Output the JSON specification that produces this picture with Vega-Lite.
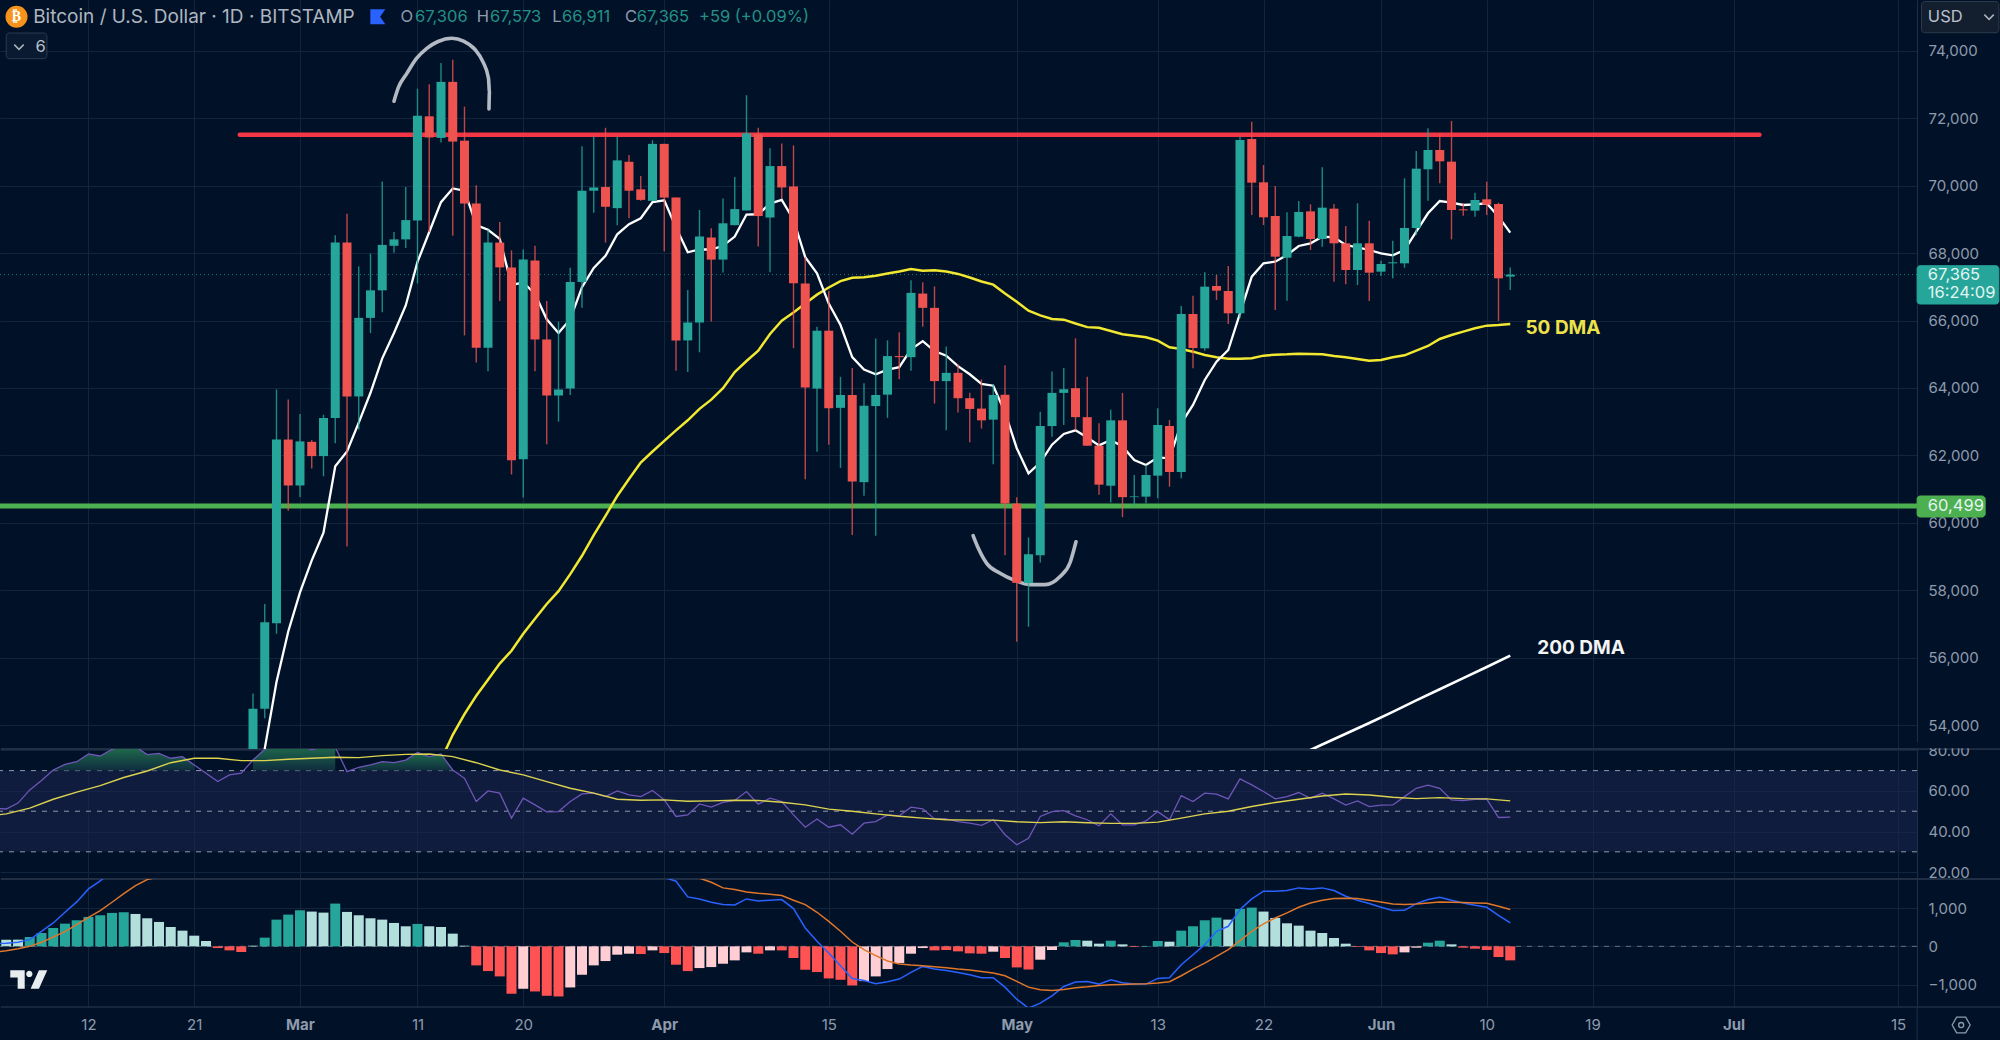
{"$schema":"https://vega.github.io/schema/vega-lite/v6.json","padding":0,"background":"#011228","bounds":"flush","spacing":0,
"resolve":{"scale":{"color":"independent","fill":"independent","stroke":"independent"}},
"config":{"view":{"stroke":null},"scale":{"continuousPadding":0},"axis":{"grid":true,"gridColor":"#12253d","gridWidth":1,"domainColor":"#1d2e46","domainWidth":1,"ticks":false,"labelColor":"#8e9bad","labelFont":"Inter","labelFontSize":15,"labelOverlap":false,"labelFlush":false}},
"datasets":{
"candles":[
{"d":"2024-02-26","o":51700,"h":54935,"l":50900,"c":54485,"k":"up"},{"d":"2024-02-27","o":54485,"h":57592,"l":54200,"c":57047,"k":"up"},{"d":"2024-02-28","o":57020,"h":63955,"l":56706,"c":62470,"k":"up"},{"d":"2024-02-29","o":62470,"h":63655,"l":60358,"c":61107,"k":"down"},
{"d":"2024-03-01","o":61107,"h":63232,"l":60766,"c":62415,"k":"up"},{"d":"2024-03-02","o":62402,"h":62456,"l":61611,"c":61979,"k":"down"},{"d":"2024-03-03","o":61979,"h":63205,"l":61380,"c":63110,"k":"up"},{"d":"2024-03-04","o":63110,"h":68533,"l":62360,"c":68315,"k":"up"},{"d":"2024-03-05","o":68315,"h":69173,"l":59295,"c":63750,"k":"down"},{"d":"2024-03-06","o":63750,"h":67606,"l":62770,"c":66080,"k":"up"},{"d":"2024-03-07","o":66080,"h":67988,"l":65630,"c":66898,"k":"up"},{"d":"2024-03-08","o":66898,"h":70127,"l":66244,"c":68246,"k":"up"},{"d":"2024-03-09","o":68220,"h":68628,"l":68015,"c":68410,"k":"up"},{"d":"2024-03-10","o":68410,"h":69963,"l":68151,"c":68982,"k":"up"},{"d":"2024-03-11","o":68969,"h":72879,"l":67102,"c":72075,"k":"up"},{"d":"2024-03-12","o":72061,"h":73015,"l":68628,"c":71435,"k":"down"},{"d":"2024-03-13","o":71421,"h":73642,"l":71285,"c":73083,"k":"up"},{"d":"2024-03-14","o":73083,"h":73737,"l":68519,"c":71312,"k":"down"},{"d":"2024-03-15","o":71339,"h":72348,"l":65562,"c":69473,"k":"down"},{"d":"2024-03-16","o":69473,"h":70018,"l":64758,"c":65194,"k":"down"},{"d":"2024-03-17","o":65194,"h":68696,"l":64500,"c":68315,"k":"up"},{"d":"2024-03-18","o":68315,"h":68928,"l":66584,"c":67579,"k":"down"},{"d":"2024-03-19","o":67579,"h":68083,"l":61434,"c":61856,"k":"down"},{"d":"2024-03-20","o":61884,"h":68110,"l":60753,"c":67810,"k":"up"},{"d":"2024-03-21","o":67783,"h":68219,"l":64500,"c":65440,"k":"down"},{"d":"2024-03-22","o":65440,"h":66584,"l":62333,"c":63777,"k":"down"},{"d":"2024-03-23","o":63777,"h":65971,"l":63001,"c":63955,"k":"up"},{"d":"2024-03-24","o":63982,"h":67565,"l":63791,"c":67143,"k":"up"},{"d":"2024-03-25","o":67143,"h":71176,"l":66380,"c":69854,"k":"up"},{"d":"2024-03-26","o":69854,"h":71462,"l":69200,"c":69950,"k":"up"},{"d":"2024-03-27","o":69963,"h":71721,"l":68315,"c":69377,"k":"down"},{"d":"2024-03-28","o":69336,"h":71462,"l":68832,"c":70754,"k":"up"},{"d":"2024-03-29","o":70713,"h":70917,"l":69037,"c":69854,"k":"down"},{"d":"2024-03-30","o":69895,"h":70290,"l":69554,"c":69582,"k":"down"},{"d":"2024-03-31","o":69554,"h":71353,"l":69554,"c":71244,"k":"up"},
{"d":"2024-04-01","o":71244,"h":71244,"l":68056,"c":69650,"k":"down"},{"d":"2024-04-02","o":69650,"h":69650,"l":64513,"c":65412,"k":"down"},{"d":"2024-04-03","o":65412,"h":66911,"l":64472,"c":65944,"k":"up"},{"d":"2024-04-04","o":65944,"h":69282,"l":65058,"c":68492,"k":"up"},{"d":"2024-04-05","o":68465,"h":68737,"l":65971,"c":67810,"k":"down"},{"d":"2024-04-06","o":67810,"h":69623,"l":67429,"c":68887,"k":"up"},{"d":"2024-04-07","o":68832,"h":70263,"l":68832,"c":69309,"k":"up"},{"d":"2024-04-08","o":69268,"h":72688,"l":69268,"c":71557,"k":"up"},{"d":"2024-04-09","o":71539,"h":71719,"l":68201,"c":69102,"k":"down"},{"d":"2024-04-10","o":69059,"h":71115,"l":67438,"c":70585,"k":"up"},{"d":"2024-04-11","o":70585,"h":71253,"l":69610,"c":69950,"k":"down"},{"d":"2024-04-12","o":69981,"h":71200,"l":65181,"c":67109,"k":"down"},{"d":"2024-04-13","o":67099,"h":67883,"l":61291,"c":64015,"k":"down"},{"d":"2024-04-14","o":63983,"h":65816,"l":62107,"c":65700,"k":"up"},{"d":"2024-04-15","o":65700,"h":66876,"l":62319,"c":63400,"k":"down"},{"d":"2024-04-16","o":63411,"h":64333,"l":61630,"c":63792,"k":"up"},{"d":"2024-04-17","o":63792,"h":64597,"l":59638,"c":61227,"k":"down"},{"d":"2024-04-18","o":61206,"h":64142,"l":60803,"c":63474,"k":"up"},{"d":"2024-04-19","o":63464,"h":65467,"l":59617,"c":63792,"k":"up"},{"d":"2024-04-20","o":63803,"h":65413,"l":63114,"c":64947,"k":"up"},{"d":"2024-04-21","o":64947,"h":65657,"l":64258,"c":64915,"k":"down"},{"d":"2024-04-22","o":64915,"h":67194,"l":64513,"c":66823,"k":"up"},{"d":"2024-04-23","o":66802,"h":67141,"l":65816,"c":66378,"k":"down"},{"d":"2024-04-24","o":66378,"h":67014,"l":63538,"c":64205,"k":"down"},{"d":"2024-04-25","o":64205,"h":65233,"l":62743,"c":64449,"k":"up"},{"d":"2024-04-26","o":64449,"h":64703,"l":63273,"c":63697,"k":"down"},{"d":"2024-04-27","o":63697,"h":63856,"l":62393,"c":63379,"k":"down"},{"d":"2024-04-28","o":63389,"h":64258,"l":62796,"c":63040,"k":"down"},{"d":"2024-04-29","o":63061,"h":64121,"l":61736,"c":63792,"k":"up"},{"d":"2024-04-30","o":63803,"h":64672,"l":59034,"c":60570,"k":"down"},
{"d":"2024-05-01","o":60570,"h":60761,"l":56469,"c":58217,"k":"down"},{"d":"2024-05-02","o":58217,"h":59563,"l":56914,"c":59065,"k":"up"},{"d":"2024-05-03","o":59034,"h":63294,"l":58822,"c":62870,"k":"up"},{"d":"2024-05-04","o":62870,"h":64491,"l":62552,"c":63855,"k":"up"},{"d":"2024-05-05","o":63855,"h":64597,"l":62902,"c":63962,"k":"up"},{"d":"2024-05-06","o":63994,"h":65477,"l":62743,"c":63135,"k":"down"},{"d":"2024-05-07","o":63135,"h":64333,"l":62287,"c":62287,"k":"down"},{"d":"2024-05-08","o":62287,"h":62955,"l":60835,"c":61132,"k":"down"},{"d":"2024-05-09","o":61100,"h":63357,"l":60602,"c":63040,"k":"up"},{"d":"2024-05-10","o":63040,"h":63855,"l":60168,"c":60761,"k":"down"},{"d":"2024-05-11","o":60761,"h":61418,"l":60517,"c":60782,"k":"up"},{"d":"2024-05-12","o":60776,"h":61716,"l":60578,"c":61419,"k":"up"},{"d":"2024-05-13","o":61399,"h":63397,"l":60726,"c":62902,"k":"up"},{"d":"2024-05-14","o":62873,"h":63051,"l":61072,"c":61508,"k":"down"},{"d":"2024-05-15","o":61508,"h":66433,"l":61320,"c":66196,"k":"up"},{"d":"2024-05-16","o":66196,"h":66740,"l":64584,"c":65187,"k":"down"},{"d":"2024-05-17","o":65177,"h":67432,"l":65108,"c":67007,"k":"up"},{"d":"2024-05-18","o":67027,"h":67353,"l":66611,"c":66888,"k":"down"},{"d":"2024-05-19","o":66878,"h":67620,"l":65899,"c":66216,"k":"down"},{"d":"2024-05-20","o":66216,"h":71458,"l":66068,"c":71359,"k":"up"},{"d":"2024-05-21","o":71389,"h":71903,"l":69134,"c":70093,"k":"down"},{"d":"2024-05-22","o":70103,"h":70617,"l":68837,"c":69064,"k":"down"},{"d":"2024-05-23","o":69104,"h":69994,"l":66315,"c":67897,"k":"down"},{"d":"2024-05-24","o":67867,"h":69213,"l":66592,"c":68510,"k":"up"},{"d":"2024-05-25","o":68491,"h":69549,"l":68471,"c":69223,"k":"up"},{"d":"2024-05-26","o":69242,"h":69450,"l":68095,"c":68421,"k":"down"},{"d":"2024-05-27","o":68421,"h":70548,"l":68194,"c":69351,"k":"up"},{"d":"2024-05-28","o":69322,"h":69460,"l":67155,"c":68293,"k":"down"},{"d":"2024-05-29","o":68293,"h":68807,"l":67076,"c":67502,"k":"down"},{"d":"2024-05-30","o":67502,"h":69480,"l":67056,"c":68293,"k":"up"},{"d":"2024-05-31","o":68293,"h":68965,"l":66582,"c":67422,"k":"down"},
{"d":"2024-06-01","o":67452,"h":67779,"l":67324,"c":67680,"k":"up"},{"d":"2024-06-02","o":67699,"h":68372,"l":67254,"c":67729,"k":"up"},{"d":"2024-06-03","o":67699,"h":70222,"l":67571,"c":68748,"k":"up"},{"d":"2024-06-04","o":68748,"h":71033,"l":68540,"c":70508,"k":"up"},{"d":"2024-06-05","o":70489,"h":71705,"l":69559,"c":71062,"k":"up"},{"d":"2024-06-06","o":71062,"h":71557,"l":70073,"c":70726,"k":"down"},{"d":"2024-06-07","o":70716,"h":71923,"l":68412,"c":69282,"k":"down"},{"d":"2024-06-08","o":69302,"h":69480,"l":69114,"c":69272,"k":"down"},{"d":"2024-06-09","o":69262,"h":69796,"l":69084,"c":69579,"k":"up"},{"d":"2024-06-10","o":69599,"h":70123,"l":69134,"c":69440,"k":"down"},{"d":"2024-06-11","o":69460,"h":69500,"l":65988,"c":67254,"k":"down"},{"d":"2024-06-12","o":67306,"h":67573,"l":66911,"c":67365,"k":"up"}],
"maWhite":[{"d":"2024-02-26","v":51500},{"d":"2024-02-27","v":53300},{"d":"2024-02-28","v":55276},{"d":"2024-02-29","v":56774},{"d":"2024-03-01","v":57933},{"d":"2024-03-02","v":58886},{"d":"2024-03-03","v":59704},{"d":"2024-03-04","v":61679},{"d":"2024-03-05","v":62115},{"d":"2024-03-06","v":62974},{"d":"2024-03-07","v":63859},{"d":"2024-03-08","v":64881},{"d":"2024-03-09","v":65630},{"d":"2024-03-10","v":66448},{"d":"2024-03-11","v":67742},{"d":"2024-03-12","v":68628},{"d":"2024-03-13","v":69514},{"d":"2024-03-14","v":69922},{"d":"2024-03-15","v":69854},{"d":"2024-03-16","v":68832},{"d":"2024-03-17","v":68696},{"d":"2024-03-18","v":68424},{"d":"2024-03-19","v":67061},{"d":"2024-03-20","v":67129},{"d":"2024-03-21","v":66788},{"d":"2024-03-22","v":66039},{"d":"2024-03-23","v":65630},{"d":"2024-03-24","v":66039},{"d":"2024-03-25","v":66993},{"d":"2024-03-26","v":67565},{"d":"2024-03-27","v":67919},{"d":"2024-03-28","v":68560},{"d":"2024-03-29","v":68860},{"d":"2024-03-30","v":69037},{"d":"2024-03-31","v":69514},{"d":"2024-04-01","v":69568},{"d":"2024-04-02","v":68764},{"d":"2024-04-03","v":68028},{"d":"2024-04-04","v":68110},{"d":"2024-04-05","v":68110},{"d":"2024-04-06","v":68219},{"d":"2024-04-07","v":68492},{"d":"2024-04-08","v":69146},{"d":"2024-04-09","v":69155},{"d":"2024-04-10","v":69473},{"d":"2024-04-11","v":69579},{"d":"2024-04-12","v":68996},{"d":"2024-04-13","v":67883},{"d":"2024-04-14","v":67406},{"d":"2024-04-15","v":66505},{"d":"2024-04-16","v":65869},{"d":"2024-04-17","v":64916},{"d":"2024-04-18","v":64545},{"d":"2024-04-19","v":64407},{"d":"2024-04-20","v":64545},{"d":"2024-04-21","v":64619},{"d":"2024-04-22","v":65149},{"d":"2024-04-23","v":65392},{"d":"2024-04-24","v":65096},{"d":"2024-04-25","v":64958},{"d":"2024-04-26","v":64650},{"d":"2024-04-27","v":64407},{"d":"2024-04-28","v":64121},{"d":"2024-04-29","v":64068},{"d":"2024-04-30","v":63273},{"d":"2024-05-01","v":62213},{"d":"2024-05-02","v":61471},{"d":"2024-05-03","v":61789},{"d":"2024-05-04","v":62319},{"d":"2024-05-05","v":62637},{"d":"2024-05-06","v":62743},{"d":"2024-05-07","v":62531},{"d":"2024-05-08","v":62298},{"d":"2024-05-09","v":62457},{"d":"2024-05-10","v":62266},{"d":"2024-05-11","v":61864},{"d":"2024-05-12","v":61716},{"d":"2024-05-13","v":61943},{"d":"2024-05-14","v":61913},{"d":"2024-05-15","v":62952},{"d":"2024-05-16","v":63496},{"d":"2024-05-17","v":64238},{"d":"2024-05-18","v":64782},{"d":"2024-05-19","v":65128},{"d":"2024-05-20","v":66216},{"d":"2024-05-21","v":67304},{"d":"2024-05-22","v":67700},{"d":"2024-05-23","v":67749},{"d":"2024-05-24","v":67947},{"d":"2024-05-25","v":68214},{"d":"2024-05-26","v":68293},{"d":"2024-05-27","v":68491},{"d":"2024-05-28","v":68471},{"d":"2024-05-29","v":68243},{"d":"2024-05-30","v":68174},{"d":"2024-05-31","v":68095},{"d":"2024-06-01","v":67996},{"d":"2024-06-02","v":67937},{"d":"2024-06-03","v":68095},{"d":"2024-06-04","v":68639},{"d":"2024-06-05","v":69183},{"d":"2024-06-06","v":69549},{"d":"2024-06-07","v":69500},{"d":"2024-06-08","v":69430},{"d":"2024-06-09","v":69450},{"d":"2024-06-10","v":69480},{"d":"2024-06-11","v":69084},{"d":"2024-06-12","v":68609}],
"maYellow":[{"d":"2024-03-12","v":52200},{"d":"2024-03-13","v":52960},{"d":"2024-03-14","v":53709},{"d":"2024-03-15","v":54322},{"d":"2024-03-16","v":54867},{"d":"2024-03-17","v":55344},{"d":"2024-03-18","v":55821},{"d":"2024-03-19","v":56202},{"d":"2024-03-20","v":56706},{"d":"2024-03-21","v":57156},{"d":"2024-03-22","v":57592},{"d":"2024-03-23","v":57973},{"d":"2024-03-24","v":58477},{"d":"2024-03-25","v":59022},{"d":"2024-03-26","v":59636},{"d":"2024-03-27","v":60208},{"d":"2024-03-28","v":60794},{"d":"2024-03-29","v":61298},{"d":"2024-03-30","v":61788},{"d":"2024-03-31","v":62115},{"d":"2024-04-01","v":62429},{"d":"2024-04-02","v":62742},{"d":"2024-04-03","v":63042},{"d":"2024-04-04","v":63382},{"d":"2024-04-05","v":63655},{"d":"2024-04-06","v":63996},{"d":"2024-04-07","v":64472},{"d":"2024-04-08","v":64800},{"d":"2024-04-09","v":65106},{"d":"2024-04-10","v":65604},{"d":"2024-04-11","v":65996},{"d":"2024-04-12","v":66240},{"d":"2024-04-13","v":66505},{"d":"2024-04-14","v":66770},{"d":"2024-04-15","v":66982},{"d":"2024-04-16","v":67173},{"d":"2024-04-17","v":67268},{"d":"2024-04-18","v":67289},{"d":"2024-04-19","v":67332},{"d":"2024-04-20","v":67395},{"d":"2024-04-21","v":67459},{"d":"2024-04-22","v":67533},{"d":"2024-04-23","v":67480},{"d":"2024-04-24","v":67491},{"d":"2024-04-25","v":67459},{"d":"2024-04-26","v":67385},{"d":"2024-04-27","v":67279},{"d":"2024-04-28","v":67162},{"d":"2024-04-29","v":67067},{"d":"2024-04-30","v":66802},{"d":"2024-05-01","v":66558},{"d":"2024-05-02","v":66293},{"d":"2024-05-03","v":66155},{"d":"2024-05-04","v":66050},{"d":"2024-05-05","v":66028},{"d":"2024-05-06","v":65912},{"d":"2024-05-07","v":65806},{"d":"2024-05-08","v":65785},{"d":"2024-05-09","v":65689},{"d":"2024-05-10","v":65594},{"d":"2024-05-11","v":65553},{"d":"2024-05-12","v":65504},{"d":"2024-05-13","v":65405},{"d":"2024-05-14","v":65207},{"d":"2024-05-15","v":65157},{"d":"2024-05-16","v":65078},{"d":"2024-05-17","v":64979},{"d":"2024-05-18","v":64910},{"d":"2024-05-19","v":64871},{"d":"2024-05-20","v":64871},{"d":"2024-05-21","v":64880},{"d":"2024-05-22","v":64960},{"d":"2024-05-23","v":64989},{"d":"2024-05-24","v":64999},{"d":"2024-05-25","v":65019},{"d":"2024-05-26","v":65009},{"d":"2024-05-27","v":64999},{"d":"2024-05-28","v":64950},{"d":"2024-05-29","v":64910},{"d":"2024-05-30","v":64861},{"d":"2024-05-31","v":64811},{"d":"2024-06-01","v":64831},{"d":"2024-06-02","v":64910},{"d":"2024-06-03","v":64970},{"d":"2024-06-04","v":65108},{"d":"2024-06-05","v":65247},{"d":"2024-06-06","v":65454},{"d":"2024-06-07","v":65573},{"d":"2024-06-08","v":65672},{"d":"2024-06-09","v":65771},{"d":"2024-06-10","v":65850},{"d":"2024-06-11","v":65870},{"d":"2024-06-12","v":65899}],
"ma200":[{"d":"2024-05-25","v":53100},{"d":"2024-05-27","v":53420},{"d":"2024-05-29","v":53740},{"d":"2024-05-31","v":54060},{"d":"2024-06-02","v":54390},{"d":"2024-06-04","v":54730},{"d":"2024-06-06","v":55060},{"d":"2024-06-08","v":55390},{"d":"2024-06-10","v":55720},{"d":"2024-06-12","v":56060}],
"arcs":[{"g":"a","n":1,"d":"2024-03-09T00:00:00Z","v":72511},{"g":"a","n":2,"d":"2024-03-09T09:00:00Z","v":72920},{"g":"a","n":3,"d":"2024-03-10T02:00:00Z","v":73329},{"g":"a","n":4,"d":"2024-03-10T22:00:00Z","v":73778},{"g":"a","n":5,"d":"2024-03-11T19:00:00Z","v":74078},{"g":"a","n":6,"d":"2024-03-12T18:00:00Z","v":74282},{"g":"a","n":7,"d":"2024-03-13T22:00:00Z","v":74378},{"g":"a","n":8,"d":"2024-03-14T22:00:00Z","v":74296},{"g":"a","n":9,"d":"2024-03-15T21:00:00Z","v":74051},{"g":"a","n":10,"d":"2024-03-16T14:00:00Z","v":73669},{"g":"a","n":11,"d":"2024-03-17T01:00:00Z","v":73192},{"g":"a","n":12,"d":"2024-03-17T03:00:00Z","v":72784},{"g":"a","n":13,"d":"2024-03-17T02:00:00Z","v":72280},
{"g":"b","n":1,"d":"2024-04-27T07:00:00Z","v":59617},{"g":"b","n":2,"d":"2024-04-27T17:30:00Z","v":59245},{"g":"b","n":3,"d":"2024-04-28T11:00:00Z","v":58790},{"g":"b","n":4,"d":"2024-04-29T14:00:00Z","v":58504},{"g":"b","n":5,"d":"2024-04-30T20:00:00Z","v":58292},{"g":"b","n":6,"d":"2024-05-02T03:00:00Z","v":58165},{"g":"b","n":7,"d":"2024-05-03T10:00:00Z","v":58165},{"g":"b","n":8,"d":"2024-05-04T16:00:00Z","v":58398},{"g":"b","n":9,"d":"2024-05-05T13:00:00Z","v":58822},{"g":"b","n":10,"d":"2024-05-06T01:00:00Z","v":59436}],
"rsi":[{"d":"2024-02-04","v":51.5},{"d":"2024-02-05","v":51.1},{"d":"2024-02-06","v":54.0},{"d":"2024-02-07","v":60.5},{"d":"2024-02-08","v":65.1},{"d":"2024-02-09","v":70.3,"seg":"a"},{"d":"2024-02-10","v":73.1,"seg":"a"},{"d":"2024-02-11","v":74.4,"seg":"a"},{"d":"2024-02-12","v":78.2,"seg":"a"},{"d":"2024-02-13","v":77.2,"seg":"a"},{"d":"2024-02-14","v":80.5,"seg":"a"},{"d":"2024-02-15","v":81.8,"seg":"a"},{"d":"2024-02-16","v":81.8,"seg":"a"},{"d":"2024-02-17","v":77.9,"seg":"a"},{"d":"2024-02-18","v":78.5,"seg":"a"},{"d":"2024-02-19","v":76.1,"seg":"a"},{"d":"2024-02-20","v":76.9,"seg":"a"},{"d":"2024-02-21","v":72.8,"seg":"a"},{"d":"2024-02-22","v":68.7},{"d":"2024-02-23","v":64.6},{"d":"2024-02-24","v":67.9},{"d":"2024-02-25","v":68.7},{"d":"2024-02-26","v":75.2,"seg":"b"},{"d":"2024-02-27","v":80.5,"seg":"b"},{"d":"2024-02-28","v":82.6,"seg":"b"},{"d":"2024-02-29","v":81.8,"seg":"b"},{"d":"2024-03-01","v":82.6,"seg":"b"},{"d":"2024-03-02","v":80.2,"seg":"b"},{"d":"2024-03-03","v":81.8,"seg":"b"},{"d":"2024-03-04","v":81.5,"seg":"b"},{"d":"2024-03-05","v":69.5},{"d":"2024-03-06","v":71.6,"seg":"c"},{"d":"2024-03-07","v":72.8,"seg":"c"},{"d":"2024-03-08","v":74.4,"seg":"c"},{"d":"2024-03-09","v":73.9,"seg":"c"},{"d":"2024-03-10","v":75.2,"seg":"c"},{"d":"2024-03-11","v":78.9,"seg":"c"},{"d":"2024-03-12","v":76.9,"seg":"c"},{"d":"2024-03-13","v":78.2,"seg":"c"},{"d":"2024-03-14","v":70.3,"seg":"c"},{"d":"2024-03-15","v":66.2},{"d":"2024-03-16","v":54.8},{"d":"2024-03-17","v":60.0},{"d":"2024-03-18","v":58.9},{"d":"2024-03-19","v":46.6},{"d":"2024-03-20","v":56.4},{"d":"2024-03-21","v":53.1},{"d":"2024-03-22","v":49.7},{"d":"2024-03-23","v":49.8},{"d":"2024-03-24","v":54.8},{"d":"2024-03-25","v":58.5},{"d":"2024-03-26","v":58.9},{"d":"2024-03-27","v":57.2},{"d":"2024-03-28","v":60.0},{"d":"2024-03-29","v":58.0},{"d":"2024-03-30","v":57.2},{"d":"2024-03-31","v":60.2},{"d":"2024-04-01","v":55.6},{"d":"2024-04-02","v":47.4},{"d":"2024-04-03","v":48.2},{"d":"2024-04-04","v":53.6},{"d":"2024-04-05","v":52.0},{"d":"2024-04-06","v":54.3},{"d":"2024-04-07","v":55.3},{"d":"2024-04-08","v":59.7},{"d":"2024-04-09","v":53.4},{"d":"2024-04-10","v":56.4},{"d":"2024-04-11","v":54.8},{"d":"2024-04-12","v":48.2},{"d":"2024-04-13","v":42.1},{"d":"2024-04-14","v":46.2},{"d":"2024-04-15","v":42.1},{"d":"2024-04-16","v":43.3},{"d":"2024-04-17","v":38.7},{"d":"2024-04-18","v":44.1},{"d":"2024-04-19","v":44.9},{"d":"2024-04-20","v":48.2},{"d":"2024-04-21","v":47.7},{"d":"2024-04-22","v":52.0},{"d":"2024-04-23","v":51.2},{"d":"2024-04-24","v":46.2},{"d":"2024-04-25","v":46.2},{"d":"2024-04-26","v":44.9},{"d":"2024-04-27","v":44.1},{"d":"2024-04-28","v":43.0},{"d":"2024-04-29","v":45.8},{"d":"2024-04-30","v":38.4},{"d":"2024-05-01","v":33.5},{"d":"2024-05-02","v":36.7},{"d":"2024-05-03","v":47.4},{"d":"2024-05-04","v":49.8},{"d":"2024-05-05","v":50.3},{"d":"2024-05-06","v":47.7},{"d":"2024-05-07","v":45.8},{"d":"2024-05-08","v":42.8},{"d":"2024-05-09","v":48.7},{"d":"2024-05-10","v":43.3},{"d":"2024-05-11","v":43.3},{"d":"2024-05-12","v":45.2},{"d":"2024-05-13","v":49.8},{"d":"2024-05-14","v":45.8},{"d":"2024-05-15","v":57.7},{"d":"2024-05-16","v":54.8},{"d":"2024-05-17","v":58.9},{"d":"2024-05-18","v":58.4},{"d":"2024-05-19","v":56.1},{"d":"2024-05-20","v":65.9},{"d":"2024-05-21","v":63.0},{"d":"2024-05-22","v":59.7},{"d":"2024-05-23","v":56.1},{"d":"2024-05-24","v":57.2},{"d":"2024-05-25","v":59.2},{"d":"2024-05-26","v":56.4},{"d":"2024-05-27","v":58.9},{"d":"2024-05-28","v":56.1},{"d":"2024-05-29","v":53.0},{"d":"2024-05-30","v":55.1},{"d":"2024-05-31","v":52.3},{"d":"2024-06-01","v":53.0},{"d":"2024-06-02","v":53.1},{"d":"2024-06-03","v":57.2},{"d":"2024-06-04","v":61.3},{"d":"2024-06-05","v":62.8},{"d":"2024-06-06","v":61.3},{"d":"2024-06-07","v":55.6},{"d":"2024-06-08","v":55.2},{"d":"2024-06-09","v":55.9},{"d":"2024-06-10","v":55.9},{"d":"2024-06-11","v":46.9},{"d":"2024-06-12","v":47.1}],
"rsiMa":[{"d":"2024-02-04","v":48.0},{"d":"2024-02-05","v":48.7},{"d":"2024-02-07","v":51.5},{"d":"2024-02-09","v":55.9},{"d":"2024-02-11","v":59.4},{"d":"2024-02-13","v":62.6},{"d":"2024-02-15","v":66.6},{"d":"2024-02-17","v":69.8},{"d":"2024-02-19","v":73.9},{"d":"2024-02-21","v":76.1},{"d":"2024-02-23","v":76.1},{"d":"2024-02-25","v":74.9},{"d":"2024-02-27","v":74.9},{"d":"2024-02-29","v":75.6},{"d":"2024-03-02","v":76.1},{"d":"2024-03-04","v":76.6},{"d":"2024-03-06","v":76.4},{"d":"2024-03-08","v":77.4},{"d":"2024-03-10","v":78.0},{"d":"2024-03-12","v":78.2},{"d":"2024-03-14","v":76.9},{"d":"2024-03-16","v":73.9},{"d":"2024-03-18","v":70.3},{"d":"2024-03-20","v":67.9},{"d":"2024-03-22","v":64.6},{"d":"2024-03-24","v":61.3},{"d":"2024-03-26","v":58.9},{"d":"2024-03-28","v":55.9},{"d":"2024-03-30","v":55.4},{"d":"2024-04-01","v":55.6},{"d":"2024-04-03","v":54.9},{"d":"2024-04-05","v":55.1},{"d":"2024-04-07","v":55.4},{"d":"2024-04-09","v":55.3},{"d":"2024-04-11","v":54.4},{"d":"2024-04-13","v":53.1},{"d":"2024-04-15","v":51.0},{"d":"2024-04-17","v":50.0},{"d":"2024-04-19","v":48.7},{"d":"2024-04-21","v":47.5},{"d":"2024-04-23","v":46.6},{"d":"2024-04-25","v":45.8},{"d":"2024-04-27","v":45.6},{"d":"2024-04-29","v":45.6},{"d":"2024-05-01","v":44.8},{"d":"2024-05-03","v":44.4},{"d":"2024-05-05","v":44.8},{"d":"2024-05-07","v":44.3},{"d":"2024-05-09","v":44.0},{"d":"2024-05-11","v":44.0},{"d":"2024-05-13","v":44.6},{"d":"2024-05-15","v":46.6},{"d":"2024-05-17","v":48.7},{"d":"2024-05-19","v":50.0},{"d":"2024-05-21","v":52.3},{"d":"2024-05-23","v":54.3},{"d":"2024-05-25","v":55.9},{"d":"2024-05-27","v":57.5},{"d":"2024-05-29","v":58.5},{"d":"2024-05-31","v":58.0},{"d":"2024-06-02","v":56.9},{"d":"2024-06-04","v":56.2},{"d":"2024-06-06","v":56.7},{"d":"2024-06-08","v":56.2},{"d":"2024-06-10","v":56.1},{"d":"2024-06-12","v":55.1}],
"hist":[{"d":"2024-02-04","v":175,"k":"upf"},{"d":"2024-02-05","v":175,"k":"upf"},{"d":"2024-02-06","v":175,"k":"upf"},{"d":"2024-02-07","v":244,"k":"up"},{"d":"2024-02-08","v":349,"k":"up"},{"d":"2024-02-09","v":480,"k":"up"},{"d":"2024-02-10","v":593,"k":"up"},{"d":"2024-02-11","v":681,"k":"up"},{"d":"2024-02-12","v":768,"k":"up"},{"d":"2024-02-13","v":812,"k":"up"},{"d":"2024-02-14","v":873,"k":"up"},{"d":"2024-02-15","v":890,"k":"up"},{"d":"2024-02-16","v":846,"k":"upf"},{"d":"2024-02-17","v":733,"k":"upf"},{"d":"2024-02-18","v":637,"k":"upf"},{"d":"2024-02-19","v":506,"k":"upf"},{"d":"2024-02-20","v":410,"k":"upf"},{"d":"2024-02-21","v":279,"k":"upf"},{"d":"2024-02-22","v":140,"k":"upf"},{"d":"2024-02-23","v":-44,"k":"down"},{"d":"2024-02-24","v":-105,"k":"down"},{"d":"2024-02-25","v":-148,"k":"down"},{"d":"2024-02-26","v":17,"k":"upf"},{"d":"2024-02-27","v":227,"k":"up"},{"d":"2024-02-28","v":698,"k":"up"},{"d":"2024-02-29","v":829,"k":"up"},{"d":"2024-03-01","v":942,"k":"up"},{"d":"2024-03-02","v":908,"k":"upf"},{"d":"2024-03-03","v":881,"k":"upf"},{"d":"2024-03-04","v":1117,"k":"up"},{"d":"2024-03-05","v":899,"k":"upf"},{"d":"2024-03-06","v":812,"k":"upf"},{"d":"2024-03-07","v":733,"k":"upf"},{"d":"2024-03-08","v":698,"k":"upf"},{"d":"2024-03-09","v":611,"k":"upf"},{"d":"2024-03-10","v":524,"k":"upf"},{"d":"2024-03-11","v":585,"k":"up"},{"d":"2024-03-12","v":524,"k":"upf"},{"d":"2024-03-13","v":506,"k":"upf"},{"d":"2024-03-14","v":332,"k":"upf"},{"d":"2024-03-15","v":17,"k":"upf"},{"d":"2024-03-16","v":-497,"k":"down"},{"d":"2024-03-17","v":-646,"k":"down"},{"d":"2024-03-18","v":-785,"k":"down"},{"d":"2024-03-19","v":-1239,"k":"down"},{"d":"2024-03-20","v":-1108,"k":"downf"},{"d":"2024-03-21","v":-1178,"k":"down"},{"d":"2024-03-22","v":-1291,"k":"down"},{"d":"2024-03-23","v":-1309,"k":"down"},{"d":"2024-03-24","v":-1073,"k":"downf"},{"d":"2024-03-25","v":-742,"k":"downf"},{"d":"2024-03-26","v":-497,"k":"downf"},{"d":"2024-03-27","v":-384,"k":"downf"},{"d":"2024-03-28","v":-218,"k":"downf"},{"d":"2024-03-29","v":-192,"k":"downf"},{"d":"2024-03-30","v":-201,"k":"down"},{"d":"2024-03-31","v":-105,"k":"downf"},{"d":"2024-04-01","v":-175,"k":"down"},{"d":"2024-04-02","v":-480,"k":"down"},{"d":"2024-04-03","v":-646,"k":"down"},{"d":"2024-04-04","v":-567,"k":"downf"},{"d":"2024-04-05","v":-541,"k":"downf"},{"d":"2024-04-06","v":-454,"k":"downf"},{"d":"2024-04-07","v":-366,"k":"downf"},{"d":"2024-04-08","v":-157,"k":"downf"},{"d":"2024-04-09","v":-192,"k":"down"},{"d":"2024-04-10","v":-105,"k":"downf"},{"d":"2024-04-11","v":-105,"k":"down"},{"d":"2024-04-12","v":-305,"k":"down"},{"d":"2024-04-13","v":-611,"k":"down"},{"d":"2024-04-14","v":-672,"k":"down"},{"d":"2024-04-15","v":-838,"k":"down"},{"d":"2024-04-16","v":-873,"k":"down"},{"d":"2024-04-17","v":-1021,"k":"down"},{"d":"2024-04-18","v":-908,"k":"downf"},{"d":"2024-04-19","v":-785,"k":"downf"},{"d":"2024-04-20","v":-593,"k":"downf"},{"d":"2024-04-21","v":-436,"k":"downf"},{"d":"2024-04-22","v":-192,"k":"downf"},{"d":"2024-04-23","v":-44,"k":"downf"},{"d":"2024-04-24","v":-105,"k":"down"},{"d":"2024-04-25","v":-96,"k":"down"},{"d":"2024-04-26","v":-131,"k":"down"},{"d":"2024-04-27","v":-183,"k":"down"},{"d":"2024-04-28","v":-192,"k":"down"},{"d":"2024-04-29","v":-140,"k":"downf"},{"d":"2024-04-30","v":-305,"k":"down"},{"d":"2024-05-01","v":-550,"k":"down"},{"d":"2024-05-02","v":-602,"k":"down"},{"d":"2024-05-03","v":-349,"k":"downf"},{"d":"2024-05-04","v":-96,"k":"downf"},{"d":"2024-05-05","v":105,"k":"up"},{"d":"2024-05-06","v":166,"k":"up"},{"d":"2024-05-07","v":148,"k":"upf"},{"d":"2024-05-08","v":70,"k":"upf"},{"d":"2024-05-09","v":148,"k":"up"},{"d":"2024-05-10","v":52,"k":"upf"},{"d":"2024-05-11","v":-17,"k":"down"},{"d":"2024-05-12","v":9,"k":"up"},{"d":"2024-05-13","v":140,"k":"up"},{"d":"2024-05-14","v":122,"k":"upf"},{"d":"2024-05-15","v":410,"k":"up"},{"d":"2024-05-16","v":524,"k":"up"},{"d":"2024-05-17","v":681,"k":"up"},{"d":"2024-05-18","v":750,"k":"up"},{"d":"2024-05-19","v":698,"k":"upf"},{"d":"2024-05-20","v":977,"k":"up"},{"d":"2024-05-21","v":1012,"k":"up"},{"d":"2024-05-22","v":908,"k":"upf"},{"d":"2024-05-23","v":742,"k":"upf"},{"d":"2024-05-24","v":602,"k":"upf"},{"d":"2024-05-25","v":541,"k":"upf"},{"d":"2024-05-26","v":410,"k":"upf"},{"d":"2024-05-27","v":349,"k":"upf"},{"d":"2024-05-28","v":218,"k":"upf"},{"d":"2024-05-29","v":70,"k":"upf"},{"d":"2024-05-30","v":-17,"k":"down"},{"d":"2024-05-31","v":-105,"k":"down"},{"d":"2024-06-01","v":-175,"k":"down"},{"d":"2024-06-02","v":-209,"k":"down"},{"d":"2024-06-03","v":-157,"k":"downf"},{"d":"2024-06-04","v":-35,"k":"downf"},{"d":"2024-06-05","v":96,"k":"up"},{"d":"2024-06-06","v":148,"k":"up"},{"d":"2024-06-07","v":52,"k":"upf"},{"d":"2024-06-08","v":-35,"k":"down"},{"d":"2024-06-09","v":-61,"k":"down"},{"d":"2024-06-10","v":-96,"k":"down"},{"d":"2024-06-11","v":-279,"k":"down"},{"d":"2024-06-12","v":-366,"k":"down"}],
"macd":[{"d":"2024-02-04","v":70},{"d":"2024-02-05","v":79},{"d":"2024-02-06","v":105},{"d":"2024-02-07","v":175},{"d":"2024-02-08","v":393},{"d":"2024-02-09","v":611},{"d":"2024-02-10","v":890},{"d":"2024-02-11","v":1161},{"d":"2024-02-12","v":1501},{"d":"2024-02-13","v":1710},{"d":"2024-02-14","v":1963},{"d":"2024-02-20","v":2450},{"d":"2024-03-05","v":3000},{"d":"2024-03-15","v":2800},{"d":"2024-03-25","v":2200},{"d":"2024-04-01","v":1800},{"d":"2024-04-02","v":1702},{"d":"2024-04-03","v":1291},{"d":"2024-04-04","v":1239},{"d":"2024-04-05","v":1152},{"d":"2024-04-06","v":1091},{"d":"2024-04-07","v":1082},{"d":"2024-04-08","v":1239},{"d":"2024-04-09","v":1187},{"d":"2024-04-10","v":1204},{"d":"2024-04-11","v":1222},{"d":"2024-04-12","v":986},{"d":"2024-04-13","v":480},{"d":"2024-04-14","v":131},{"d":"2024-04-15","v":-175},{"d":"2024-04-16","v":-506},{"d":"2024-04-17","v":-838},{"d":"2024-04-18","v":-890},{"d":"2024-04-19","v":-977},{"d":"2024-04-20","v":-925},{"d":"2024-04-21","v":-855},{"d":"2024-04-22","v":-681},{"d":"2024-04-23","v":-524},{"d":"2024-04-24","v":-593},{"d":"2024-04-25","v":-628},{"d":"2024-04-26","v":-681},{"d":"2024-04-27","v":-742},{"d":"2024-04-28","v":-820},{"d":"2024-04-29","v":-820},{"d":"2024-04-30","v":-1065},{"d":"2024-05-01","v":-1379},{"d":"2024-05-02","v":-1614},{"d":"2024-05-03","v":-1483},{"d":"2024-05-04","v":-1291},{"d":"2024-05-05","v":-1047},{"d":"2024-05-06","v":-934},{"d":"2024-05-07","v":-916},{"d":"2024-05-08","v":-986},{"d":"2024-05-09","v":-873},{"d":"2024-05-10","v":-951},{"d":"2024-05-11","v":-986},{"d":"2024-05-12","v":-986},{"d":"2024-05-13","v":-838},{"d":"2024-05-14","v":-820},{"d":"2024-05-15","v":-480},{"d":"2024-05-16","v":-218},{"d":"2024-05-17","v":44},{"d":"2024-05-18","v":393},{"d":"2024-05-19","v":524},{"d":"2024-05-20","v":960},{"d":"2024-05-21","v":1239},{"d":"2024-05-22","v":1440},{"d":"2024-05-23","v":1440},{"d":"2024-05-24","v":1457},{"d":"2024-05-25","v":1527},{"d":"2024-05-26","v":1501},{"d":"2024-05-27","v":1527},{"d":"2024-05-28","v":1457},{"d":"2024-05-29","v":1309},{"d":"2024-05-30","v":1204},{"d":"2024-05-31","v":1117},{"d":"2024-06-01","v":1021},{"d":"2024-06-02","v":934},{"d":"2024-06-03","v":942},{"d":"2024-06-04","v":1117},{"d":"2024-06-05","v":1222},{"d":"2024-06-06","v":1283},{"d":"2024-06-07","v":1204},{"d":"2024-06-08","v":1134},{"d":"2024-06-09","v":1073},{"d":"2024-06-10","v":1021},{"d":"2024-06-11","v":812},{"d":"2024-06-12","v":611}],
"signal":[{"d":"2024-02-04","v":-148},{"d":"2024-02-05","v":-113},{"d":"2024-02-06","v":-61},{"d":"2024-02-07","v":0},{"d":"2024-02-08","v":105},{"d":"2024-02-09","v":244},{"d":"2024-02-10","v":384},{"d":"2024-02-11","v":567},{"d":"2024-02-12","v":759},{"d":"2024-02-13","v":934},{"d":"2024-02-14","v":1152},{"d":"2024-02-15","v":1379},{"d":"2024-02-16","v":1588},{"d":"2024-02-17","v":1745},{"d":"2024-02-25","v":2300},{"d":"2024-03-05","v":2700},{"d":"2024-03-20","v":2600},{"d":"2024-04-01","v":2000},{"d":"2024-04-04","v":1780},{"d":"2024-04-05","v":1675},{"d":"2024-04-06","v":1527},{"d":"2024-04-07","v":1483},{"d":"2024-04-08","v":1422},{"d":"2024-04-09","v":1387},{"d":"2024-04-10","v":1361},{"d":"2024-04-11","v":1326},{"d":"2024-04-12","v":1204},{"d":"2024-04-13","v":1091},{"d":"2024-04-14","v":890},{"d":"2024-04-15","v":654},{"d":"2024-04-16","v":393},{"d":"2024-04-17","v":113},{"d":"2024-04-18","v":-87},{"d":"2024-04-19","v":-244},{"d":"2024-04-20","v":-384},{"d":"2024-04-21","v":-462},{"d":"2024-04-22","v":-489},{"d":"2024-04-23","v":-506},{"d":"2024-04-24","v":-532},{"d":"2024-04-25","v":-558},{"d":"2024-04-26","v":-593},{"d":"2024-04-27","v":-620},{"d":"2024-04-28","v":-654},{"d":"2024-04-29","v":-698},{"d":"2024-04-30","v":-768},{"d":"2024-05-01","v":-916},{"d":"2024-05-02","v":-1065},{"d":"2024-05-03","v":-1134},{"d":"2024-05-04","v":-1152},{"d":"2024-05-05","v":-1126},{"d":"2024-05-06","v":-1082},{"d":"2024-05-07","v":-1056},{"d":"2024-05-08","v":-1021},{"d":"2024-05-09","v":-1003},{"d":"2024-05-10","v":-995},{"d":"2024-05-11","v":-986},{"d":"2024-05-12","v":-977},{"d":"2024-05-13","v":-960},{"d":"2024-05-14","v":-925},{"d":"2024-05-15","v":-768},{"d":"2024-05-16","v":-593},{"d":"2024-05-17","v":-436},{"d":"2024-05-18","v":-262},{"d":"2024-05-19","v":-87},{"d":"2024-05-20","v":148},{"d":"2024-05-21","v":393},{"d":"2024-05-22","v":585},{"d":"2024-05-23","v":742},{"d":"2024-05-24","v":873},{"d":"2024-05-25","v":1021},{"d":"2024-05-26","v":1134},{"d":"2024-05-27","v":1204},{"d":"2024-05-28","v":1248},{"d":"2024-05-29","v":1257},{"d":"2024-05-30","v":1248},{"d":"2024-05-31","v":1204},{"d":"2024-06-01","v":1161},{"d":"2024-06-02","v":1108},{"d":"2024-06-03","v":1091},{"d":"2024-06-04","v":1108},{"d":"2024-06-05","v":1134},{"d":"2024-06-06","v":1161},{"d":"2024-06-07","v":1152},{"d":"2024-06-08","v":1143},{"d":"2024-06-09","v":1134},{"d":"2024-06-10","v":1126},{"d":"2024-06-11","v":1047},{"d":"2024-06-12","v":960}]
},
"vconcat":[
{"width":1917,"height":749,"resolve":{"scale":{"color":"independent"}},"layer":[
{"data":{"values":[{"d":"2024-02-04T13:00:00Z","d2":"2024-07-23T16:20:00Z","v":53288}]},"mark":{"type":"rule","stroke":"#2b3a4c","strokeWidth":1.5},"encoding":{"x":{"field":"d","type":"temporal","scale":{"type":"utc","domain":["2024-02-04T11:15:00Z","2024-07-16T14:48:00Z"]},"axis":{"title":null,"labels":false,"domain":false,"ticks":false,"values":["2024-02-12","2024-02-21","2024-03-01","2024-03-11","2024-03-20","2024-04-01","2024-04-15","2024-05-01","2024-05-13","2024-05-22","2024-06-01","2024-06-10","2024-06-19","2024-07-01","2024-07-15"]}},"x2":{"field":"d2"},"y":{"field":"v","type":"quantitative","scale":{"domain":[53288,75513]},"axis":{"title":null,"orient":"right","values":[54000,56000,58000,60000,62000,64000,66000,68000,70000,72000,74000],"format":",.0f","labelPadding":11}}}},
{"data":{"values":[{"v":67365}]},"mark":{"type":"rule","stroke":"#26a69a","strokeDash":[1,3],"strokeWidth":1,"opacity":0.7,"clip":true},"encoding":{"y":{"field":"v","type":"quantitative","scale":{"domain":[53288,75513]}}}},
{"data":{"values":[{"v":60499}]},"mark":{"type":"rule","stroke":"#4caf50","strokeWidth":5,"clip":true},"encoding":{"y":{"field":"v","type":"quantitative","scale":{"domain":[53288,75513]}}}},
{"data":{"values":[{"d":"2024-02-24T21:00:00Z","d2":"2024-07-03T05:00:00Z","v":71516}]},"mark":{"type":"rule","stroke":"#f23645","strokeWidth":4.5,"strokeCap":"round"},"encoding":{"x":{"field":"d","type":"temporal","scale":{"type":"utc","domain":["2024-02-04T11:15:00Z","2024-07-16T14:48:00Z"]}},"x2":{"field":"d2"},"y":{"field":"v","type":"quantitative","scale":{"domain":[53288,75513]}}}},
{"data":{"name":"maYellow"},"mark":{"type":"line","stroke":"#f2e832","strokeWidth":2.5,"clip":true},"encoding":{"x":{"field":"d","type":"temporal","scale":{"type":"utc","domain":["2024-02-04T11:15:00Z","2024-07-16T14:48:00Z"]}},"y":{"field":"v","type":"quantitative","scale":{"domain":[53288,75513]}}}},
{"data":{"name":"maWhite"},"mark":{"type":"line","stroke":"#ffffff","strokeWidth":2.3,"clip":true},"encoding":{"x":{"field":"d","type":"temporal","scale":{"type":"utc","domain":["2024-02-04T11:15:00Z","2024-07-16T14:48:00Z"]}},"y":{"field":"v","type":"quantitative","scale":{"domain":[53288,75513]}}}},
{"data":{"name":"ma200"},"mark":{"type":"line","stroke":"#ffffff","strokeWidth":2.6,"clip":true},"encoding":{"x":{"field":"d","type":"temporal","scale":{"type":"utc","domain":["2024-02-04T11:15:00Z","2024-07-16T14:48:00Z"]}},"y":{"field":"v","type":"quantitative","scale":{"domain":[53288,75513]}}}},
{"data":{"name":"arcs"},"mark":{"type":"line","stroke":"#b4bac4","strokeWidth":3.6,"strokeCap":"round","strokeJoin":"round","interpolate":"monotone"},"encoding":{"x":{"field":"d","type":"temporal","scale":{"type":"utc","domain":["2024-02-04T11:15:00Z","2024-07-16T14:48:00Z"]}},"y":{"field":"v","type":"quantitative","scale":{"domain":[53288,75513]}},"detail":{"field":"g"},"order":{"field":"n","type":"quantitative"}}},
{"data":{"name":"candles"},"mark":{"type":"rule","strokeWidth":1.4,"opacity":0.8,"clip":true},"encoding":{"x":{"field":"d","type":"temporal","scale":{"type":"utc","domain":["2024-02-04T11:15:00Z","2024-07-16T14:48:00Z"]}},"y":{"field":"l","type":"quantitative","scale":{"domain":[53288,75513]}},"y2":{"field":"h"},"color":{"field":"k","type":"nominal","scale":{"domain":["up","down"],"range":["#26a69a","#ef5350"]},"legend":null}}},
{"data":{"name":"candles"},"mark":{"type":"bar","size":9,"clip":true},"encoding":{"x":{"field":"d","type":"temporal","scale":{"type":"utc","domain":["2024-02-04T11:15:00Z","2024-07-16T14:48:00Z"]}},"y":{"field":"o","type":"quantitative","scale":{"domain":[53288,75513]}},"y2":{"field":"c"},"color":{"field":"k","type":"nominal","scale":{"domain":["up","down"],"range":["#26a69a","#ef5350"]},"legend":null}}},
{"data":{"values":[{"d":"2024-07-16T15:00:00Z","d2":"2024-07-23T14:00:00Z","v":67629,"v2":66492,"k":"teal"},{"d":"2024-07-16T15:00:00Z","d2":"2024-07-22T10:00:00Z","v":60795,"v2":60172,"k":"green"},{"d":"2024-07-17T00:00:00Z","d2":"2024-07-23T14:00:00Z","v":75469,"v2":74543,"k":"usd"},{"d":"2024-02-05T00:00:00Z","d2":"2024-02-08T11:00:00Z","v":74534,"v2":73771,"k":"menu"}]},"mark":{"type":"rect","cornerRadius":3,"strokeWidth":1},"encoding":{"x":{"field":"d","type":"temporal","scale":{"type":"utc","domain":["2024-02-04T11:15:00Z","2024-07-16T14:48:00Z"]}},"x2":{"field":"d2"},"y":{"field":"v","type":"quantitative","scale":{"domain":[53288,75513]}},"y2":{"field":"v2"},"fill":{"field":"k","type":"nominal","scale":{"domain":["teal","green","usd","menu"],"range":["#26a69a","#4caf50","#131e2f","#0a1a31"]},"legend":null},"stroke":{"field":"k","type":"nominal","scale":{"domain":["teal","green","usd","menu"],"range":["#26a69a","#4caf50","#2c3a4c","#2a3a50"]},"legend":null}}},
{"data":{"values":[{"d":"2024-02-05T21:00:00Z","v":75018}]},"mark":{"type":"point","shape":"circle","filled":true,"fill":"#f7931a","size":484,"opacity":1},"encoding":{"x":{"field":"d","type":"temporal","scale":{"type":"utc","domain":["2024-02-04T11:15:00Z","2024-07-16T14:48:00Z"]}},"y":{"field":"v","type":"quantitative","scale":{"domain":[53288,75513]}}}},
{"data":{"values":[{"d":"2024-03-07T15:00:00Z","v":75018}]},"mark":{"type":"point","shape":"M-1,-1H1L0.3,0L1,1H-1Z","filled":true,"fill":"#2962ff","size":225,"opacity":1},"encoding":{"x":{"field":"d","type":"temporal","scale":{"type":"utc","domain":["2024-02-04T11:15:00Z","2024-07-16T14:48:00Z"]}},"y":{"field":"v","type":"quantitative","scale":{"domain":[53288,75513]}}}},
{"data":{"values":[{"d":"2024-02-06T02:00:00Z","v":74119},{"d":"2024-07-22T18:00:00Z","v":75009}]},"mark":{"type":"point","shape":"M-1,-0.5L0,0.5L1,-0.5","filled":false,"stroke":"#aab3bd","strokeWidth":1.5,"size":90,"opacity":1},"encoding":{"x":{"field":"d","type":"temporal","scale":{"type":"utc","domain":["2024-02-04T11:15:00Z","2024-07-16T14:48:00Z"]}},"y":{"field":"v","type":"quantitative","scale":{"domain":[53288,75513]}}}},
{"data":{"values":[{"d":"2024-02-05T21:00:00Z","v":75018,"t":"₿"}]},"mark":{"type":"text","font":"DejaVu Sans","fontWeight":"bold","fontSize":14,"fill":"#ffffff","align":"center","baseline":"middle"},"encoding":{"x":{"field":"d","type":"temporal","scale":{"type":"utc","domain":["2024-02-04T11:15:00Z","2024-07-16T14:48:00Z"]}},"y":{"field":"v","type":"quantitative","scale":{"domain":[53288,75513]}},"text":{"field":"t"}}},
{"data":{"values":[{"d":"2024-02-07T07:00:00Z","v":75018,"t":"Bitcoin / U.S. Dollar · 1D · BITSTAMP"}]},"mark":{"type":"text","font":"Inter","fontSize":19,"fill":"#aeb6c0","align":"left","baseline":"middle"},"encoding":{"x":{"field":"d","type":"temporal","scale":{"type":"utc","domain":["2024-02-04T11:15:00Z","2024-07-16T14:48:00Z"]}},"y":{"field":"v","type":"quantitative","scale":{"domain":[53288,75513]}},"text":{"field":"t"}}},
{"data":{"values":[{"d":"2024-03-09T13:30:00Z","v":75018,"t":"O","k":"l"},{"d":"2024-03-10T19:00:00Z","v":75018,"t":"67,306","k":"g"},{"d":"2024-03-16T01:00:00Z","v":75018,"t":"H","k":"l"},{"d":"2024-03-17T04:00:00Z","v":75018,"t":"67,573","k":"g"},{"d":"2024-03-22T11:00:00Z","v":75018,"t":"L","k":"l"},{"d":"2024-03-23T07:00:00Z","v":75018,"t":"66,911","k":"g"},{"d":"2024-03-28T16:00:00Z","v":75018,"t":"C","k":"l"},{"d":"2024-03-29T16:00:00Z","v":75018,"t":"67,365","k":"g"},{"d":"2024-04-03T23:00:00Z","v":75018,"t":"+59 (+0.09%)","k":"g"},{"d":"2024-02-07T12:00:00Z","v":74119,"t":"6","k":"u"},{"d":"2024-07-17T13:00:00Z","v":75009,"t":"USD","k":"u"},{"d":"2024-07-17T13:00:00Z","v":67353,"t":"67,365","k":"t"},{"d":"2024-07-17T13:00:00Z","v":66828,"t":"16:24:09","k":"t"},{"d":"2024-07-17T13:00:00Z","v":60490,"t":"60,499","k":"t"}]},"mark":{"type":"text","font":"Inter","fontSize":16.5,"align":"left","baseline":"middle"},"encoding":{"x":{"field":"d","type":"temporal","scale":{"type":"utc","domain":["2024-02-04T11:15:00Z","2024-07-16T14:48:00Z"]}},"y":{"field":"v","type":"quantitative","scale":{"domain":[53288,75513]}},"text":{"field":"t"},"color":{"field":"k","type":"nominal","scale":{"domain":["l","g","u","t"],"range":["#8e9bad","#239186","#b8c0ca","#e3f4f1"]},"legend":null}}},
{"data":{"values":[{"d":"2024-06-13T07:00:00Z","v":65780,"t":"50 DMA","k":"y"},{"d":"2024-06-14T07:00:00Z","v":56285,"t":"200 DMA","k":"w"}]},"mark":{"type":"text","font":"Inter","fontWeight":"bold","fontSize":19,"align":"left","baseline":"middle"},"encoding":{"x":{"field":"d","type":"temporal","scale":{"type":"utc","domain":["2024-02-04T11:15:00Z","2024-07-16T14:48:00Z"]}},"y":{"field":"v","type":"quantitative","scale":{"domain":[53288,75513]}},"text":{"field":"t"},"color":{"field":"k","type":"nominal","scale":{"domain":["y","w"],"range":["#eee24a","#f2f4f6"]},"legend":null}}}
]},
{"width":1917,"height":130,"layer":[
{"data":{"values":[{"d":"2024-02-04T13:00:00Z","d2":"2024-07-23T16:20:00Z","v":16.6}]},"mark":{"type":"rule","stroke":"#2b3a4c","strokeWidth":1.5},"encoding":{"x":{"field":"d","type":"temporal","scale":{"type":"utc","domain":["2024-02-04T11:15:00Z","2024-07-16T14:48:00Z"]},"axis":{"title":null,"labels":false,"domain":false,"ticks":false,"values":["2024-02-12","2024-02-21","2024-03-01","2024-03-11","2024-03-20","2024-04-01","2024-04-15","2024-05-01","2024-05-13","2024-05-22","2024-06-01","2024-06-10","2024-06-19","2024-07-01","2024-07-15"]}},"x2":{"field":"d2"},"y":{"field":"v","type":"quantitative","scale":{"domain":[16.6,80.65]},"axis":{"title":null,"orient":"right","values":[20,40,60,80],"format":".2f","labelPadding":11}}}},
{"data":{"values":[{"d":"2024-07-16T15:00:00Z","d2":"2024-07-23T16:20:00Z","v":81,"v2":84}]},"mark":{"type":"rect","fill":"#011228"},"encoding":{"x":{"field":"d","type":"temporal","scale":{"type":"utc","domain":["2024-02-04T11:15:00Z","2024-07-16T14:48:00Z"]}},"x2":{"field":"d2"},"y":{"field":"v","type":"quantitative","scale":{"domain":[16.6,80.65]}},"y2":{"field":"v2"}}},
{"data":{"values":[{"v":30,"v2":70}]},"mark":{"type":"rect","fill":"#1b2450","opacity":0.55},"encoding":{"y":{"field":"v","type":"quantitative","scale":{"domain":[16.6,80.65]}},"y2":{"field":"v2"}}},
{"data":{"values":[{"v":30},{"v":50},{"v":70}]},"mark":{"type":"rule","stroke":"#8f99a8","strokeDash":[5,6],"strokeWidth":1,"clip":true},"encoding":{"y":{"field":"v","type":"quantitative","scale":{"domain":[16.6,80.65]}}}},
{"data":{"name":"rsi"},"transform":[{"filter":"isValid(datum.seg)"}],"mark":{"type":"area","clip":true,"color":{"x1":0,"y1":0,"x2":0,"y2":1,"gradient":"linear","stops":[{"offset":0,"color":"#1f6e4c"},{"offset":1,"color":"#0f2c3f"}]}},"encoding":{"x":{"field":"d","type":"temporal","scale":{"type":"utc","domain":["2024-02-04T11:15:00Z","2024-07-16T14:48:00Z"]}},"y":{"field":"v","type":"quantitative","scale":{"domain":[16.6,80.65]}},"y2":{"datum":70},"detail":{"field":"seg"}}},
{"data":{"name":"rsi"},"mark":{"type":"line","stroke":"#6f56b8","strokeWidth":1.3,"clip":true},"encoding":{"x":{"field":"d","type":"temporal","scale":{"type":"utc","domain":["2024-02-04T11:15:00Z","2024-07-16T14:48:00Z"]}},"y":{"field":"v","type":"quantitative","scale":{"domain":[16.6,80.65]}}}},
{"data":{"name":"rsiMa"},"mark":{"type":"line","stroke":"#dcd24e","strokeWidth":1.4,"clip":true},"encoding":{"x":{"field":"d","type":"temporal","scale":{"type":"utc","domain":["2024-02-04T11:15:00Z","2024-07-16T14:48:00Z"]}},"y":{"field":"v","type":"quantitative","scale":{"domain":[16.6,80.65]}}}}
]},
{"width":1917,"height":128,"layer":[
{"data":{"values":[{"d":"2024-02-04T13:00:00Z","d2":"2024-07-23T16:20:00Z","v":-1584}]},"mark":{"type":"rule","stroke":"#1d2e46","strokeWidth":1.5},"encoding":{"x":{"field":"d","type":"temporal","scale":{"type":"utc","domain":["2024-02-04T11:15:00Z","2024-07-16T14:48:00Z"]},"axis":{"title":null,"domain":false,"ticks":false,"labelPadding":10,"labelExpr":"utcdate(datum.value)==1 ? utcFormat(datum.value,'%b') : utcFormat(datum.value,'%-d')","labelFontWeight":{"condition":{"test":"utcdate(datum.value)==1","value":"bold"},"value":"normal"},"values":["2024-02-12","2024-02-21","2024-03-01","2024-03-11","2024-03-20","2024-04-01","2024-04-15","2024-05-01","2024-05-13","2024-05-22","2024-06-01","2024-06-10","2024-06-19","2024-07-01","2024-07-15"]}},"x2":{"field":"d2"},"y":{"field":"v","type":"quantitative","scale":{"domain":[-1584,1759]},"axis":{"title":null,"orient":"right","values":[-1000,0,1000],"format":",.0f","labelPadding":11}}}},
{"data":{"values":[{"d":"2024-07-16T15:00:00Z","v":-1584,"v2":-2450}]},"mark":{"type":"rule","stroke":"#1d2e46","strokeWidth":1},"encoding":{"x":{"field":"d","type":"temporal","scale":{"type":"utc","domain":["2024-02-04T11:15:00Z","2024-07-16T14:48:00Z"]}},"y":{"field":"v","type":"quantitative","scale":{"domain":[-1584,1759]}},"y2":{"field":"v2"}}},
{"data":{"values":[{"v":0}]},"mark":{"type":"rule","stroke":"#66727f","strokeDash":[5,6],"strokeWidth":1,"clip":true},"encoding":{"y":{"field":"v","type":"quantitative","scale":{"domain":[-1584,1759]}}}},
{"data":{"name":"hist"},"mark":{"type":"bar","size":10,"clip":true},"encoding":{"x":{"field":"d","type":"temporal","scale":{"type":"utc","domain":["2024-02-04T11:15:00Z","2024-07-16T14:48:00Z"]}},"y":{"field":"v","type":"quantitative","scale":{"domain":[-1584,1759]}},"y2":{"datum":0},"color":{"field":"k","type":"nominal","scale":{"domain":["up","upf","down","downf"],"range":["#26a69a","#b2dfdb","#ff5252","#ffcdd2"]},"legend":null}}},
{"data":{"name":"macd"},"mark":{"type":"line","stroke":"#2962ff","strokeWidth":1.5,"clip":true},"encoding":{"x":{"field":"d","type":"temporal","scale":{"type":"utc","domain":["2024-02-04T11:15:00Z","2024-07-16T14:48:00Z"]}},"y":{"field":"v","type":"quantitative","scale":{"domain":[-1584,1759]}}}},
{"data":{"name":"signal"},"mark":{"type":"line","stroke":"#e0762a","strokeWidth":1.5,"clip":true},"encoding":{"x":{"field":"d","type":"temporal","scale":{"type":"utc","domain":["2024-02-04T11:15:00Z","2024-07-16T14:48:00Z"]}},"y":{"field":"v","type":"quantitative","scale":{"domain":[-1584,1759]}}}},
{"data":{"values":[{"d":"2024-02-06T22:00:00Z","v":-864}]},"mark":{"type":"point","shape":"M-1,-0.5H-0.22V0.5H-0.6V-0.1H-1ZM-0.14,-0.3a0.17,0.17 0 1 0 0.34,0a0.17,0.17 0 1 0 -0.34,0ZM0.55,-0.5H1L0.55,0.5H0.1Z","filled":true,"fill":"#e8edf0","size":1369,"opacity":1},"encoding":{"x":{"field":"d","type":"temporal","scale":{"type":"utc","domain":["2024-02-04T11:15:00Z","2024-07-16T14:48:00Z"]}},"y":{"field":"v","type":"quantitative","scale":{"domain":[-1584,1759]}}}},
{"data":{"values":[{"d":"2024-07-20T09:00:00Z","v":-2055}]},"mark":{"type":"point","shape":"M-1,0L-0.5,-0.87L0.5,-0.87L1,0L0.5,0.87L-0.5,0.87ZM-0.28,0a0.28,0.28 0 1 0 0.56,0a0.28,0.28 0 1 0 -0.56,0Z","filled":false,"stroke":"#8e9bad","strokeWidth":1.3,"size":324,"opacity":1},"encoding":{"x":{"field":"d","type":"temporal","scale":{"type":"utc","domain":["2024-02-04T11:15:00Z","2024-07-16T14:48:00Z"]}},"y":{"field":"v","type":"quantitative","scale":{"domain":[-1584,1759]}}}}
]}
]}
